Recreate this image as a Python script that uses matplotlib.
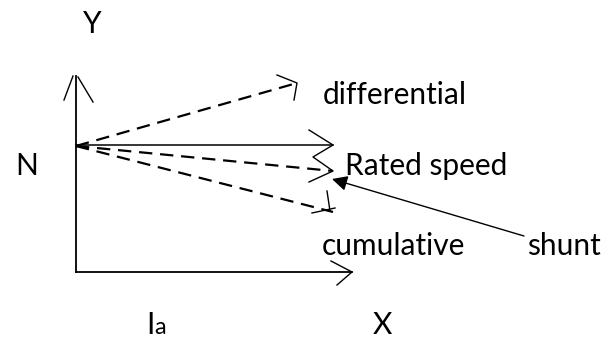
import matplotlib
matplotlib.use('Agg')
import matplotlib.pyplot as plt
from matplotlib.patches import FancyArrowPatch

# sketch coordinates are in image pixels (y grows downward)
origin_x, origin_y = 76, 146
corner = (76, 272)
y_axis_top = 76
x_axis_end = 352

# speed curves leaving the no-load point
curve_names = ['differential', 'rated', 'cumulative']
curve_end_x = [297, 333, 333]
curve_end_y = [83, 171, 212]

# solid rated-speed line
rated_end = (333, 145)

# open (hand drawn) arrow heads, as polylines
head_y_axis = [[(64, 100), (73, 76)], [(78, 77), (93, 102)]]
head_x_axis = [[(331, 261), (352, 272), (337, 285)]]
head_diff = [[(277, 75), (297, 83), (294, 100)]]
head_rated = [[(309, 130), (333, 145), (313, 157), (333, 171), (309, 182)]]
head_cumul = [[(327, 191), (330, 211)], [(312, 213), (335, 208)]]

# shunt pointer
shunt_from = (524, 236)
shunt_to = (332, 179)

FONT = 'Lato'
FS = 21.5

fig = plt.figure(figsize=(6.11, 3.38), dpi=100)
ax = fig.add_axes([0, 0, 1, 1])
ax.set_xlim(0, 611)
ax.set_ylim(338, 0)
ax.axis('off')

# axes of the sketch
ax.plot([corner[0], corner[0]], [corner[1], y_axis_top], color='black', lw=1.3)
ax.plot([corner[0], x_axis_end], [corner[1], corner[1]], color='black', lw=1.3)

# dashed curves
for name, ex, ey in zip(curve_names, curve_end_x, curve_end_y):
    ax.plot([origin_x, ex], [origin_y, ey], color='black', lw=1.6,
            linestyle=(0, (6, 3.5)))

ax.plot([origin_x, rated_end[0]], [rated_end[1], rated_end[1]], color='black', lw=1.1)

for heads in [head_y_axis, head_x_axis, head_diff, head_rated, head_cumul]:
    for seg in heads:
        xs = [p[0] for p in seg]
        ys = [p[1] for p in seg]
        ax.plot(xs, ys, color='black', lw=1.0)

arr = FancyArrowPatch(shunt_from, shunt_to, arrowstyle='-|>', mutation_scale=23,
                      color='black', lw=1.0, shrinkA=0, shrinkB=0)
ax.add_patch(arr)

# labels
txt = dict(family=FONT, fontsize=FS, color='black', va='baseline', ha='left')
ax.text(83, 33, 'Y', **txt)
ax.text(323, 104, 'differential', **txt)
ax.text(15, 175, 'N', **txt)
ax.text(345, 175, 'Rated speed', **txt)
ax.text(322, 255, 'cumulative', **txt)
ax.text(527, 255, 'shunt', **txt)
ax.text(146, 334, 'I', **txt)
ax.text(154, 334.5, 'a', family=FONT, fontsize=17, color='black', va='baseline', ha='left')
ax.text(373, 334, 'X', **txt)

fig.savefig('out.png', dpi=100)
